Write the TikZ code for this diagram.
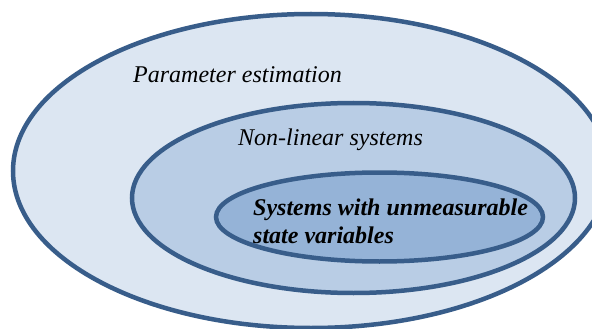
\documentclass[tikz,border=0pt]{standalone}
\usepackage{fontspec}
\setmainfont{Liberation Serif}
\definecolor{edge}{HTML}{385D8A}
\definecolor{fillA}{HTML}{DCE6F2}
\definecolor{fillB}{HTML}{B9CDE5}
\definecolor{fillC}{HTML}{95B3D7}
\tikzset{
  ring/.style={draw=edge, line width=4.5pt},
  lbl/.style={inner sep=0pt, anchor=base west, font=\fontsize{24}{28}\selectfont\itshape},
  blbl/.style={lbl, font=\fontsize{24}{28}\selectfont\bfseries\itshape, align=left}
}
\begin{document}
\begin{tikzpicture}[x=1pt,y=-1pt]
\useasboundingbox (0,0) rectangle (592,329);
\clip (0,0) rectangle (592,329);
\fill[white] (0,0) rectangle (592,329);
\draw[ring, fill=fillA] (311,171) ellipse [x radius=298, y radius=157];
\draw[ring, fill=fillB] (353.5,198) ellipse [x radius=221.5, y radius=95];
\draw[ring, fill=fillC] (379.5,217) ellipse [x radius=163.5, y radius=44.5];
\node[lbl] (pe) at (133,82) {Parameter estimation};
\node[lbl] (nl) at (238,145) {Non-linear systems};
\node[blbl] (su) at (253,243) {Systems with unmeasurable\\state variables};
\end{tikzpicture}
\end{document}
